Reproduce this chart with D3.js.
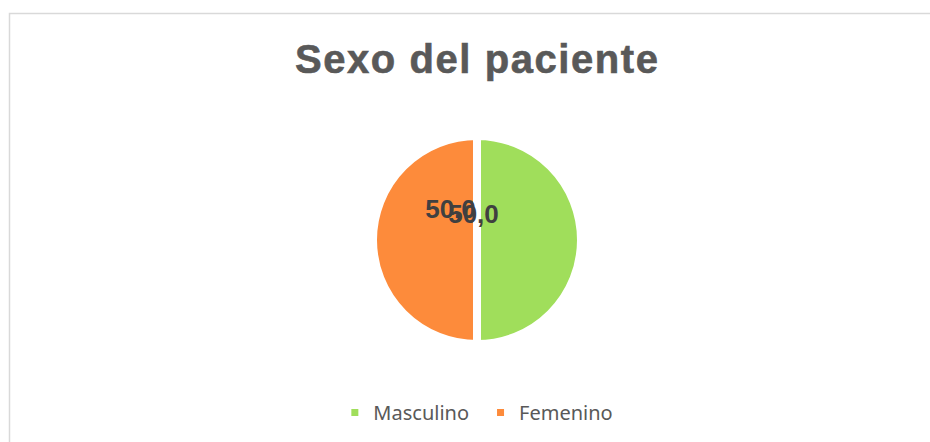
<!DOCTYPE html>
<html>
<head>
<meta charset="utf-8">
<script src="https://cdn.jsdelivr.net/npm/d3@7"></script>
<style>
  body { margin: 0; background: #fff; }
  svg { display: block; }
</style>
</head>
<body>
<svg id="chart" width="930" height="442"></svg>
<script>
const categories = ["Masculino", "Femenino"];
const values = [50, 50];
const colors = ["#a0de5b", "#fd8b3b"];

const width = 930, height = 442;
const svg = d3.select("#chart");

// chart frame (only top + left edges fall inside the picture)
svg.append("rect")
    .attr("x", 9.5).attr("y", 13.5)
    .attr("width", 960).attr("height", 460)
    .attr("fill", "none")
    .attr("stroke", "#d9d9d9")
    .attr("stroke-width", 1.5);

svg.append("text")
    .attr("x", 476.5).attr("y", 73)
    .attr("text-anchor", "middle")
    .attr("textLength", 363)
    .attr("lengthAdjust", "spacing")
    .style("font-family", "'Liberation Sans', Arial, sans-serif")
    .style("font-weight", "bold")
    .style("font-size", "40px")
    .style("stroke", "#595959")
    .style("stroke-width", 0.6)
    .style("fill", "#595959")
    .text("Sexo del paciente");

const cx = 477, cy = 240, r = 104;
const pie = d3.pie().sort(null).value(d => d)(values);
const arc = d3.arc().innerRadius(0).outerRadius(r);
const labelArc = d3.arc().innerRadius(11.5).outerRadius(11.5);

const g = svg.append("g").attr("transform", `translate(${cx},${cy})`);

g.selectAll("path")
    .data(pie)
    .join("path")
    .attr("d", arc)
    .attr("fill", (d, i) => colors[i])
    .attr("stroke", "#fff")
    .attr("stroke-width", 8)
    .attr("stroke-linejoin", "round");

const fmt = v => d3.format(".1f")(v).replace(".", ",");

g.selectAll("text.lbl")
    .data(pie)
    .join("text")
    .attr("class", "lbl")
    .attr("transform", (d, i) => {
        const [x, y] = labelArc.centroid(d);
        return `translate(${x - 15},${y - 29 + (i === 0 ? 2.5 : -2.5)})`;
    })
    .attr("text-anchor", "middle")
    .attr("dy", "0.35em")
    .style("font-family", "'Liberation Sans', Arial, sans-serif")
    .style("font-weight", "bold")
    .style("font-size", "26px")
    .style("fill", "#404040")
    .text(d => fmt(d.data));

// legend
const legend = svg.append("g");
const items = legend.selectAll("g")
    .data(categories)
    .join("g");

items.append("rect")
    .attr("width", 7).attr("height", 7)
    .attr("y", -11)
    .attr("fill", (d, i) => colors[i]);

items.append("text")
    .attr("x", 22)
    .style("font-family", "'Noto Sans', 'Open Sans', sans-serif")
    .style("font-size", "20px")
    .style("fill", "#595959")
    .text(d => d);

let xPos = 0;
items.each(function() {
    const t = d3.select(this).select("text").node().getComputedTextLength();
    d3.select(this).attr("transform", `translate(${xPos},0)`);
    xPos += 22 + t + 28;
});
const legendW = xPos - 28;
legend.attr("transform", `translate(${482 - legendW / 2},420)`);
</script>
</body>
</html>
